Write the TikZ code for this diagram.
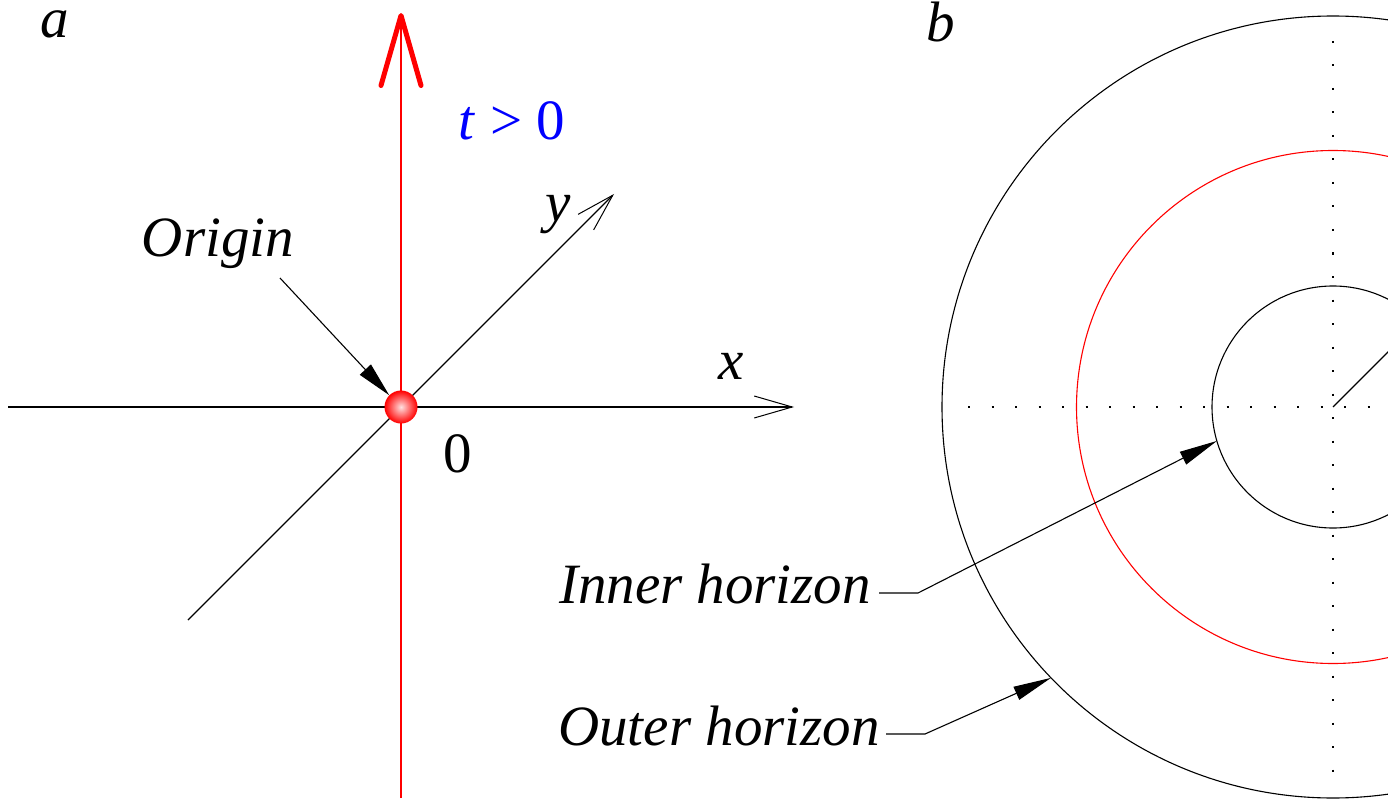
\documentclass[tikz,border=0pt]{standalone}
\usepackage{fontspec}
\setmainfont{Liberation Serif}[ItalicFont={Liberation Serif Italic}]
\newfontfamily\tnr{Liberation Serif}[ItalicFont={Liberation Serif Italic}]
\usetikzlibrary{arrows.meta}
\begin{document}
\begin{tikzpicture}[x=1pt,y=-1pt,
  lbl/.style={font=\tnr\fontsize{57}{60}\selectfont\itshape, inner sep=0pt, anchor=base},
  rlbl/.style={font=\tnr\fontsize{57}{60}\selectfont, inner sep=0pt, anchor=base},
  axisline/.style={line width=1.1pt, black},
  openhead/.style={-{Straight Barb[length=38pt,width=22pt,line width=1pt]}},
  leader/.style={line width=1.1pt, black, -{Triangle[length=38pt,width=14pt]}},
  dotline/.style={line width=2pt, black, dash pattern=on 2pt off 21.5pt},
  circ/.style={line width=1.1pt}]
\useasboundingbox (0,0) rectangle (1388,802);
\clip (0,0) rectangle (1388,802);
\fill[white] (0,0) rectangle (1388,802);

% ---------- panel a ----------
\node[lbl] (la) at (55,38) {a};
\coordinate (O) at (401,407);
\coordinate (xs) at (8,407);
\coordinate (xe) at (794,407);
\coordinate (ys) at (188,620);
\coordinate (ye) at (614,194);
\coordinate (ts) at (401,798);
\coordinate (te) at (401,13);

\draw[axisline, openhead] (xs) -- (xe);
\draw[axisline, openhead] (ys) -- (ye);
\draw[red, line width=1.4pt, -{Straight Barb[length=70pt,width=40pt,line width=5pt,round]}] (ts) -- (te);

\node[circle, minimum size=33pt, inner sep=0pt, inner color=red!12!white, outer color=red] (ball) at (O) {};

\node[rlbl, text=blue] (tlab) at (512,140) {\textit{t} > 0};
\node[lbl] (xlab) at (731,379) {x};
\node[lbl] (ylab) at (558,222) {y};
\node[rlbl] (zero) at (458,472) {0};
\node[lbl] (orig) at (218,257) {Origin};
\coordinate (org1) at (280,278);
\draw[line width=1.1pt, -{Triangle[length=35pt,width=15pt]}] (org1) -- (ball.135);

% ---------- panel b ----------
\node[lbl] (lb) at (941,42) {b};
\coordinate (C) at (1333,407);
\draw[dotline] (968,407) -- (1388,407);
\draw[dotline] (1333,41) -- (1333,790);
\draw[circ, black] (C) circle (391);
\draw[circ, red] (C) circle (256.5);
\draw[circ, black] (C) circle (121);
\coordinate (rad) at ([shift={(-45:120)}]C);
\draw[line width=1.1pt] (C) -- (rad);

\coordinate (itip) at ([shift={(163.7:121)}]C);
\coordinate (otip) at ([shift={(136.15:391)}]C);

\node[lbl] (inner) at (715,603) {Inner horizon};
\node[lbl] (outer) at (719,745) {Outer horizon};
\coordinate (ih1) at (879,593);
\coordinate (ih2) at (918,593);
\coordinate (oh1) at (886,734);
\coordinate (oh2) at (925,734);
\draw[leader] (ih1) -- (ih2) -- (itip);
\draw[leader] (oh1) -- (oh2) -- (otip);
\end{tikzpicture}
\end{document}
